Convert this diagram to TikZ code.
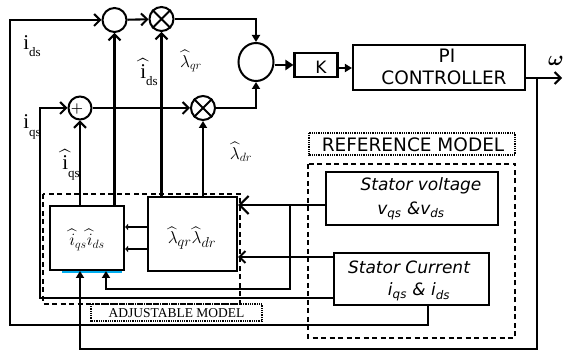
\documentclass[tikz,border=0pt]{standalone}
\usepackage{fontspec}
\usepackage{amsmath}
\newfontfamily\comic{DejaVu Sans}
\newfontfamily\serifA{Liberation Serif}
\usetikzlibrary{arrows.meta,shapes.geometric}
\tikzset{
  barb/.style={-{Straight Barb[length=6pt,width=12pt,line width=2pt]}},
  bigbarb/.style={-{Straight Barb[length=9pt,width=18pt,line width=2.2pt]}},
  tri/.style={-{Triangle[length=7pt,width=8pt]}},
  smalltri/.style={-{Triangle[length=3pt,width=6pt]}},
  bx/.style={draw, rectangle, inner sep=0pt, line width=2.1pt},
  sumc/.style={draw, circle, inner sep=0pt, minimum size=24pt, line width=2pt},
  bigc/.style={draw, ellipse, inner sep=0pt, minimum width=35pt, minimum height=38pt, line width=2pt},
  lbl/.style={inner sep=0pt, font=\serifA\fontsize{21}{21}\selectfont},
  lam/.style={inner sep=0pt, font=\fontsize{18}{18}\selectfont},
  comictxt/.style={inner sep=0pt, font=\comic\fontsize{18.5}{18.5}\selectfont},
  comicit/.style={inner sep=0pt, font=\comic\itshape\fontsize{17}{17}\selectfont},
  dashbox/.style={line width=1.8pt, dash pattern=on 5pt off 3.5pt},
  dotbox/.style={line width=1.6pt, dash pattern=on 1pt off 0.8pt},
}
\newcommand{\sbs}[1]{\raisebox{-0.35em}{\fontsize{13}{13}\selectfont #1}}
\begin{document}
\begin{tikzpicture}[x=1pt,y=-1pt,line width=2.1pt]
\useasboundingbox (0,0) rectangle (565,352);

% summing / multiplying junctions
\node[sumc] (c1) at (114.5,20) {};
\node[sumc] (x1) at (161.5,19) {};
\draw[line width=1.8pt] (x1.north west) -- (x1.south east) (x1.north east) -- (x1.south west);
\node[sumc, minimum size=23pt] (c2) at (80,108) {};
\node[inner sep=0pt, font=\bfseries\fontsize{14}{14}\selectfont] at (77,109) {+};
\node[sumc] (x2) at (203,108) {};
\draw[line width=1.8pt] (x2.north west) -- (x2.south east) (x2.north east) -- (x2.south west);
\node[bigc] (big) at (256,62) {};

% blocks
\node[bx, minimum width=43pt, minimum height=24pt] (k) at (316,65) {};
\node[comictxt, font=\comic\fontsize{17}{17}\selectfont] at (321,67) {K};
\node[bx, minimum width=172pt, minimum height=45pt] (pi) at (439,67.5) {};
\node[comictxt] at (447,56) {PI};
\node[comictxt] at (444,78) {CONTROLLER};

\node[bx, minimum width=74pt, minimum height=64pt] (ibox) at (87,238) {};
\node[inner sep=0pt, font=\fontsize{18}{18}\selectfont] at (87,240) {$\widehat{i}_{qs}\widehat{i}_{ds}$};
\node[bx, minimum width=89pt, minimum height=74pt] (lam) at (192.5,234) {};
\node[inner sep=0pt, font=\fontsize{19}{19}\selectfont] at (192,238) {$\widehat{\lambda}_{qr}\widehat{\lambda}_{dr}$};

\node[bx, minimum width=172pt, minimum height=53pt] (volt) at (412,198.5) {};
\node[comicit] at (421,186) {Stator voltage};
\node[comicit] at (411,211) {v\textsubscript{qs} \&v\textsubscript{ds}};
\node[bx, minimum width=155pt, minimum height=52pt] (cur) at (411.5,279) {};
\node[comicit] at (409,267) {Stator Current};
\node[comicit] at (419,292) {i\textsubscript{qs} \& i\textsubscript{ds}};

% model frames and labels
\draw[dashbox] (43,194) rectangle (240,304);
\draw[dashbox] (308,164) rectangle (515,338);
\draw[dotbox] (309,133) rectangle (515,155);
\node[comictxt] at (413,144.5) {REFERENCE MODEL};
\draw[dotbox] (91,304) rectangle (262,321);
\node[inner sep=0pt, font=\serifA\fontsize{13.5}{13.5}\selectfont] at (176.5,313.5) {ADJUSTABLE MODEL};
\draw[cyan, line width=1.2pt] (62,272) -- (122,272);

% connectors
\coordinate (cb) at (428,305);
\draw[barb] (cb) -- (428,325) -- (10,325) -- (10,20) -- (c1);
\draw[barb] (c1) -- (x1);
\draw[tri] (x1) -| (big);
\draw[barb] (c2) -- (x2);
\draw[tri] (x2) -| (big);
\draw[-{Triangle[length=8pt,width=10pt]}, line width=2.6pt] (k.west -| big.east) -- (k.west);
\draw[tri] (k.east |- 0,68) -- (pi.west |- 0,68);
\coordinate (w) at (562,78);
\draw[barb] (pi.east |- w) -- (w);
\node[inner sep=0pt, font=\fontsize{20}{20}\selectfont] at (556,61) {$\boldsymbol{\omega}$};
\draw[tri] (537,78) |- (80,349) -- (80,271);

\draw[barb] (cur.west |- 0,298) -- (40,298) -- (40,108) -- (c2);
\draw[bigbarb] (volt.west |- 0,205) -- (lam.east |- 0,205);
\draw[tri] (290,205) |- (106,289) -- (106,271);
\draw[barb] (cur.west |- 0,257) -- (lam.east |- 0,257);
\draw[smalltri] (lam.west |- 0,227) -- (ibox.east |- 0,227);
\draw[smalltri] (lam.west |- 0,249) -- (ibox.east |- 0,249);

\draw[barb] (c2 |- ibox.north) -- (c2.south);
\draw[barb] (c1 |- ibox.north) -- (c1.south);
\draw[barb] (x1 |- lam.north) -- (x1.south);
\draw[tri] (x2 |- lam.north) -- (x2.south);

% signal labels
\node[lbl] at (32,46) {i\sbs{ds}};
\node[lbl] at (32,127) {i\sbs{qs}};
\node[lbl] at (71,165) {$\widehat{\mbox{i}}$\sbs{qs}};
\node[lbl] at (149,72) {$\widehat{\mbox{i}}$\sbs{ds}};
\node[lam] at (191,61) {$\widehat{\lambda}_{qr}$};
\node[lam] at (241,152) {$\widehat{\lambda}_{dr}$};
\end{tikzpicture}
\end{document}
